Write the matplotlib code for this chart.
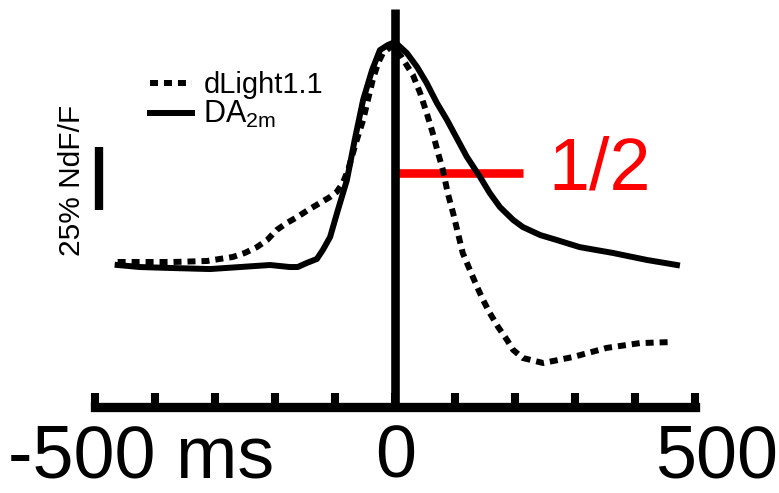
import numpy as np
import matplotlib
matplotlib.use('Agg')
import matplotlib.pyplot as plt

plt.rcParams['font.family'] = ['Liberation Sans', 'DejaVu Sans']
plt.rcParams['mathtext.fontset'] = 'custom'
plt.rcParams['mathtext.rm'] = 'Liberation Sans'

# traces, % NdF/F vs time (ms) relative to peak
t_dlight = [-462, -408, -370, -313, -292, -270, -250, -230, -213, -197, -180,
            -163, -145, -125, -108, -97, -87, -78, -70, -62, -53, -45, -37,
            -28, -20, -5, 10, 30, 42, 53, 63, 72, 80, 88, 97, 105, 113, 125,
            137, 147, 158, 172, 187, 197, 213, 247, 297, 353, 408, 458]
dlight = [1.2, 1.2, 1.2, 1.6, 2.4, 3.2, 4.8, 7.1, 9.9, 13.9, 16.7,
          19.0, 21.8, 24.6, 27.0, 29.0, 32.5, 37.7, 44.4, 50.8, 57.5, 65.5, 73.4,
          80.2, 84.1, 87.0, 83.0, 75.4, 68.3, 60.3, 52.4, 44.4, 37.7, 28.6, 20.6,
          12.7, 4.8, -2.0, -8.7, -13.9, -19.0, -24.6, -29.8, -33.7, -36.9,
          -38.9, -36.5, -32.9, -31.0, -30.6]

t_da2m = [-462, -425, -370, -308, -258, -208, -175, -162, -147, -130, -120,
          -108, -95, -80, -67, -53, -38, -25, -12, 0, 20, 37, 53, 70, 87, 103,
          120, 142, 158, 175, 197, 213, 242, 270, 308, 363, 420, 470]
da2m = [0.0, -0.8, -1.2, -1.6, -0.8, 0.0, -0.8, -0.8, 0.8, 2.4, 6.0,
        11.1, 21.8, 33.7, 49.6, 65.5, 77.4, 85.3, 87.3, 88.5, 84.1, 78.6, 72.2,
        64.3, 57.5, 50.4, 42.9, 34.9, 28.6, 23.0, 17.9, 15.1, 11.9, 9.9, 7.1,
        4.8, 2.0, 0.0]

half_level = 36.5      # "1/2" marker level
half_end = 213         # ms
scale_bar = 25         # % NdF/F
xticks = np.arange(-500, 501, 100)

fig = plt.figure(figsize=(7.79, 4.93), dpi=100)
ax = fig.add_axes([0, 0, 1, 1])
ax.set_xlim(-658, 640)
ax.set_ylim(-90.5, 105.2)

lw = 4.3
ax.plot(t_dlight, dlight, color='k', lw=lw, dashes=(1.34, 1.0),
        dash_capstyle='butt', label='dLight1.1', zorder=3)
ax.plot(t_da2m, da2m, color='k', lw=lw, label='DA$_{\\mathregular{2m}}$',
        zorder=4)

# event line and half-max marker
y_axis = -56.5
ax.vlines(0, y_axis, 101.6, color='k', lw=6.2, zorder=2)
ax.hlines(half_level, 0, half_end, color='red', lw=6.2, zorder=1)
ax.text(255, 30, '1/2', color='red', fontsize=53, ha='left', va='baseline')

# scale bar
ax.vlines(-493, 21.8, 21.8 + scale_bar, color='k', lw=6, capstyle='butt')
ax.text(-538, 33.7, '25% NdF/F', rotation=90, fontsize=21.5,
        ha='center', va='center')

# time axis
for s in ['top', 'left', 'right']:
    ax.spines[s].set_visible(False)
ax.spines['bottom'].set_position(('data', y_axis))
ax.spines['bottom'].set_bounds(-500, 500)
ax.spines['bottom'].set_linewidth(6.7)
ax.set_xticks(xticks)
ax.set_xticklabels([])
ax.set_yticks([])
ax.tick_params(axis='x', direction='in', length=10.4, width=5.8, color='k')

ax.text(-645, -84.5, '-500 ms', fontsize=53, ha='left', va='baseline')
ax.text(2, -84.5, '0', fontsize=53, ha='center', va='baseline')
ax.text(433, -84.5, '500', fontsize=53, ha='left', va='baseline')

leg = ax.legend(loc='upper left', bbox_to_anchor=(0.1926, 0.856),
                frameon=False, fontsize=21, handlelength=1.45,
                handletextpad=0.38, labelspacing=0.0, borderpad=0,
                borderaxespad=0)
leg.get_texts()[1].set_fontsize(22)

fig.savefig('out.png', dpi=100)
